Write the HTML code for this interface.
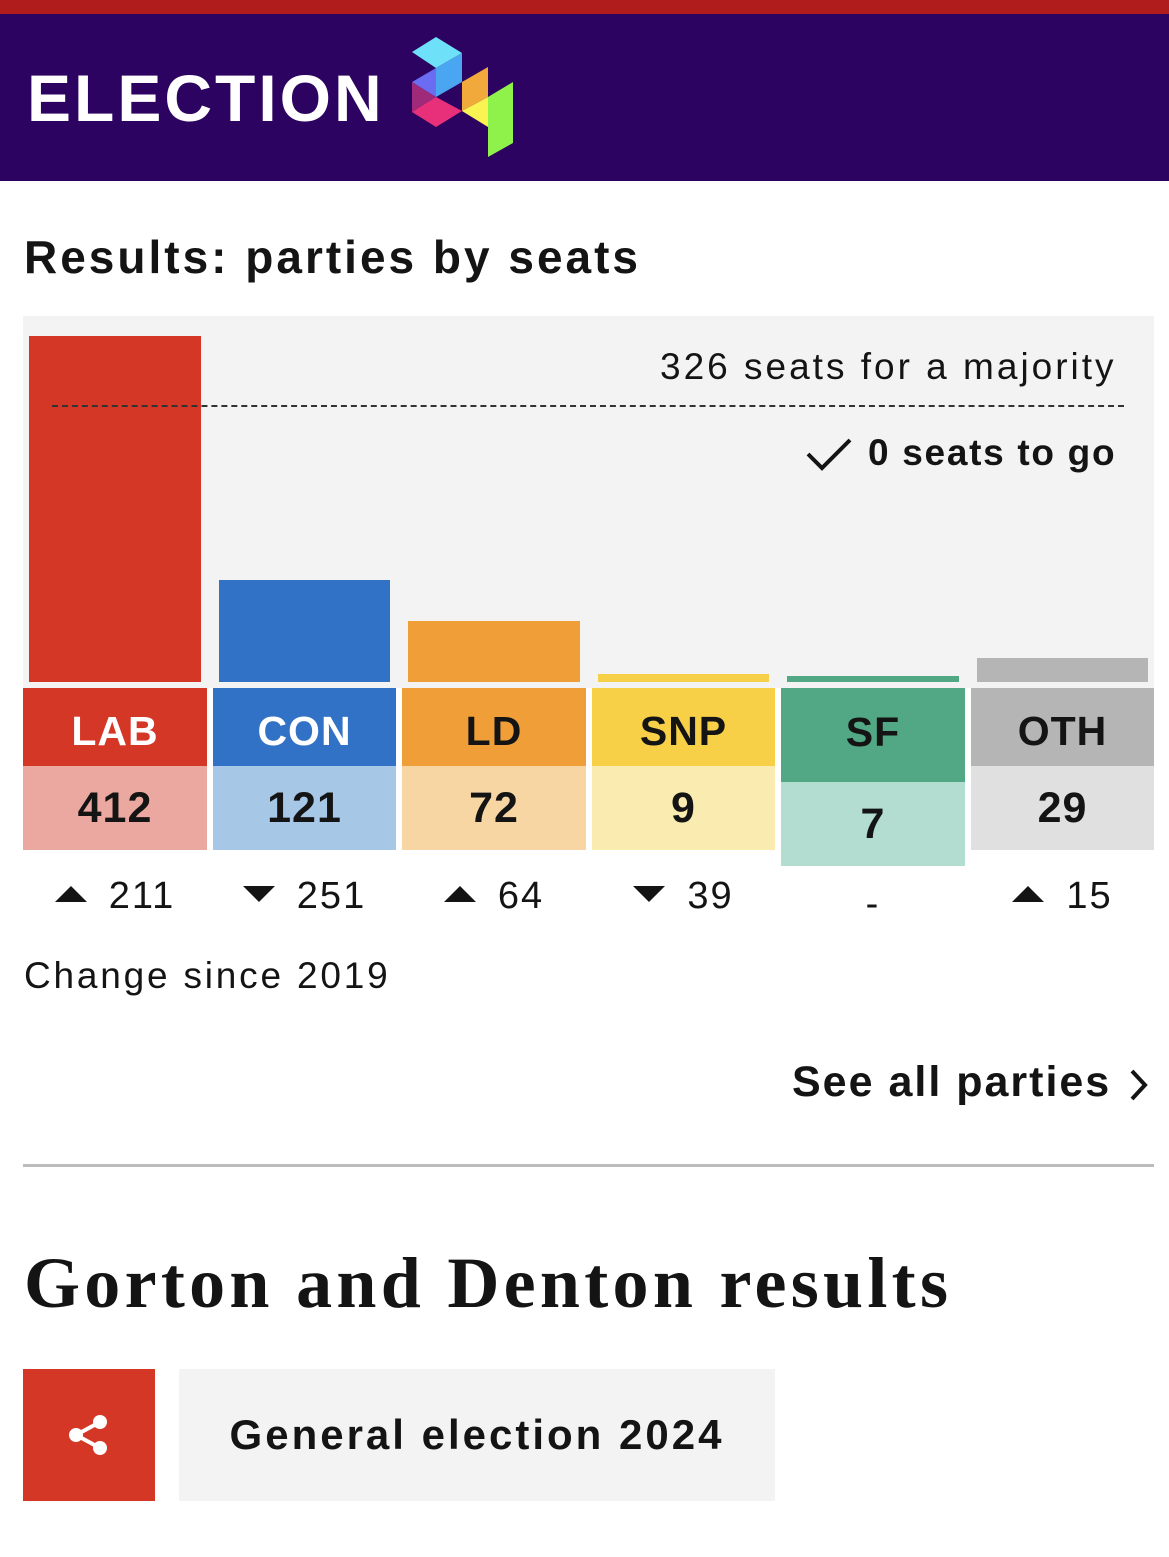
<!DOCTYPE html>
<html><head><meta charset="utf-8"><style>
*{margin:0;padding:0;box-sizing:border-box}
body{width:1169px;height:1557px;background:#fff;position:relative;font-family:"Liberation Sans","DejaVu Sans",sans-serif;overflow:hidden}
.a{position:absolute}
.hd{font-weight:bold;font-size:41px;text-align:center;line-height:86px;letter-spacing:1px}
.vl{font-weight:bold;font-size:43px;text-align:center;color:#141414;line-height:84px;letter-spacing:1px}
.ch{font-size:38px;color:#141414;text-align:center;top:872px;line-height:48px;letter-spacing:2px}
.tri{display:inline-block;width:0;height:0;border-left:16px solid transparent;border-right:16px solid transparent;margin-right:22px;vertical-align:middle;position:relative;top:-4px}
.up{border-bottom:16px solid #141414}
.dn{border-top:16px solid #141414}
</style></head><body>
<div class="a" style="left:0;top:0;width:1169px;height:14px;background:#b01c1c"></div>
<div class="a" style="left:0;top:14px;width:1169px;height:167px;background:#2c0360"></div>
<div class="a" style="left:27px;top:58px;font-size:66px;font-weight:bold;color:#fff;line-height:80px;letter-spacing:3px">ELECTION</div>
<svg class="a" style="left:380px;top:20px" width="160" height="150" viewBox="380 20 160 150">
<polygon points="412,52 436,37 462,53 436,68" fill="#6ee0f7"/>
<polygon points="436,68 462,53 462,82 436,97" fill="#4aa6f0"/>
<polygon points="412,82 436,68 436,97" fill="#6a6cf2"/>
<polygon points="412,82 436,97 412,112" fill="#a02a7a"/>
<polygon points="412,112 436,97 462,111 436,127" fill="#e8307a"/>
<polygon points="462,82 488,67 488,97 462,111" fill="#f2a93c"/>
<polygon points="462,111 488,97 488,127" fill="#f9f452"/>
<polygon points="488,97 513,82 513,143 488,157" fill="#8ff24a"/>
</svg>
<div class="a" style="left:24px;top:230px;font-size:46px;font-weight:bold;color:#141414;letter-spacing:3px">Results: parties by seats</div>
<div class="a" style="left:23px;top:316px;width:1131px;height:372px;background:#f3f3f3"></div>
<div class="a" style="left:29px;top:336px;width:172px;height:346px;background:#d53727"></div>
<div class="a" style="left:219px;top:580px;width:171px;height:102px;background:#3272c6"></div>
<div class="a" style="left:408px;top:621px;width:172px;height:61px;background:#f09e38"></div>
<div class="a" style="left:598px;top:674px;width:171px;height:8px;background:#f7d048"></div>
<div class="a" style="left:787px;top:676px;width:172px;height:6px;background:#52a785"></div>
<div class="a" style="left:977px;top:658px;width:171px;height:24px;background:#b5b5b5"></div>
<div class="a" style="left:660px;top:346px;font-size:37px;color:#141414;letter-spacing:3px">326 seats for a majority</div>
<div class="a" style="left:52px;top:405px;width:1072px;border-top:2px dashed #333"></div>
<svg class="a" style="left:805px;top:437px" width="48" height="36" viewBox="0 0 48 36"><polyline points="3,17 17,31 45,3" fill="none" stroke="#141414" stroke-width="4"/></svg>
<div class="a" style="left:868px;top:432px;font-size:37px;font-weight:bold;color:#141414;letter-spacing:1.7px">0 seats to go</div>

<div class="a hd" style="left:23px;top:688px;width:184px;height:78px;background:#d53727;color:#fff">LAB</div>
<div class="a vl" style="left:23px;top:766px;width:184px;background:#eba8a0">412</div>
<div class="a hd" style="left:213px;top:688px;width:183px;height:78px;background:#3272c6;color:#fff">CON</div>
<div class="a vl" style="left:213px;top:766px;width:183px;background:#a6c7e6">121</div>
<div class="a hd" style="left:402px;top:688px;width:184px;height:78px;background:#f09e38;color:#141414">LD</div>
<div class="a vl" style="left:402px;top:766px;width:184px;background:#f7d6a4">72</div>
<div class="a hd" style="left:592px;top:688px;width:183px;height:78px;background:#f7d048;color:#141414">SNP</div>
<div class="a vl" style="left:592px;top:766px;width:183px;background:#faecb0">9</div>
<div class="a hd" style="left:781px;top:688px;width:184px;height:94px;line-height:88px;background:#52a785;color:#141414">SF</div>
<div class="a vl" style="left:781px;top:782px;width:184px;line-height:84px;height:84px;background:#b2ddd0">7</div>
<div class="a hd" style="left:971px;top:688px;width:183px;height:78px;background:#b5b5b5;color:#141414">OTH</div>
<div class="a vl" style="left:971px;top:766px;width:183px;background:#e0e0e0">29</div>

<div class="a ch" style="left:23px;width:184px"><span class="tri up"></span>211</div>
<div class="a ch" style="left:213px;width:183px"><span class="tri dn"></span>251</div>
<div class="a ch" style="left:402px;width:184px"><span class="tri up"></span>64</div>
<div class="a ch" style="left:592px;width:183px"><span class="tri dn"></span>39</div>
<div class="a ch" style="left:781px;width:184px;top:880px">-</div>
<div class="a ch" style="left:971px;width:183px"><span class="tri up"></span>15</div>

<div class="a" style="left:24px;top:955px;font-size:37px;color:#141414;letter-spacing:2.8px">Change since 2019</div>
<div class="a" style="left:792px;top:1058px;font-size:43px;font-weight:bold;color:#141414;letter-spacing:2px">See all parties</div>
<svg class="a" style="left:1128px;top:1068px" width="22" height="34" viewBox="0 0 22 34"><polyline points="4,3 17,17 4,31" fill="none" stroke="#141414" stroke-width="4"/></svg>
<div class="a" style="left:23px;top:1164px;width:1131px;height:3px;background:#bcbcbc"></div>
<div class="a" style="left:24px;top:1242px;font-family:'Liberation Serif','DejaVu Serif',serif;font-size:72px;font-weight:bold;color:#141414;letter-spacing:4.3px">Gorton and Denton results</div>
<div class="a" style="left:23px;top:1369px;width:132px;height:132px;background:#d53727"></div>
<svg class="a" style="left:66px;top:1412px" width="46" height="46" viewBox="0 0 46 46">
<line x1="10" y1="23" x2="34" y2="10" stroke="#fff" stroke-width="4"/>
<line x1="10" y1="23" x2="34" y2="36" stroke="#fff" stroke-width="4"/>
<circle cx="10" cy="23" r="7" fill="#fff"/><circle cx="34" cy="10" r="7" fill="#fff"/><circle cx="34" cy="36" r="7" fill="#fff"/>
</svg>
<div class="a" style="left:179px;top:1369px;width:596px;height:132px;background:#f3f3f3;font-size:42px;font-weight:bold;color:#141414;text-align:center;line-height:132px;letter-spacing:3px">General election 2024</div>
</body></html>
